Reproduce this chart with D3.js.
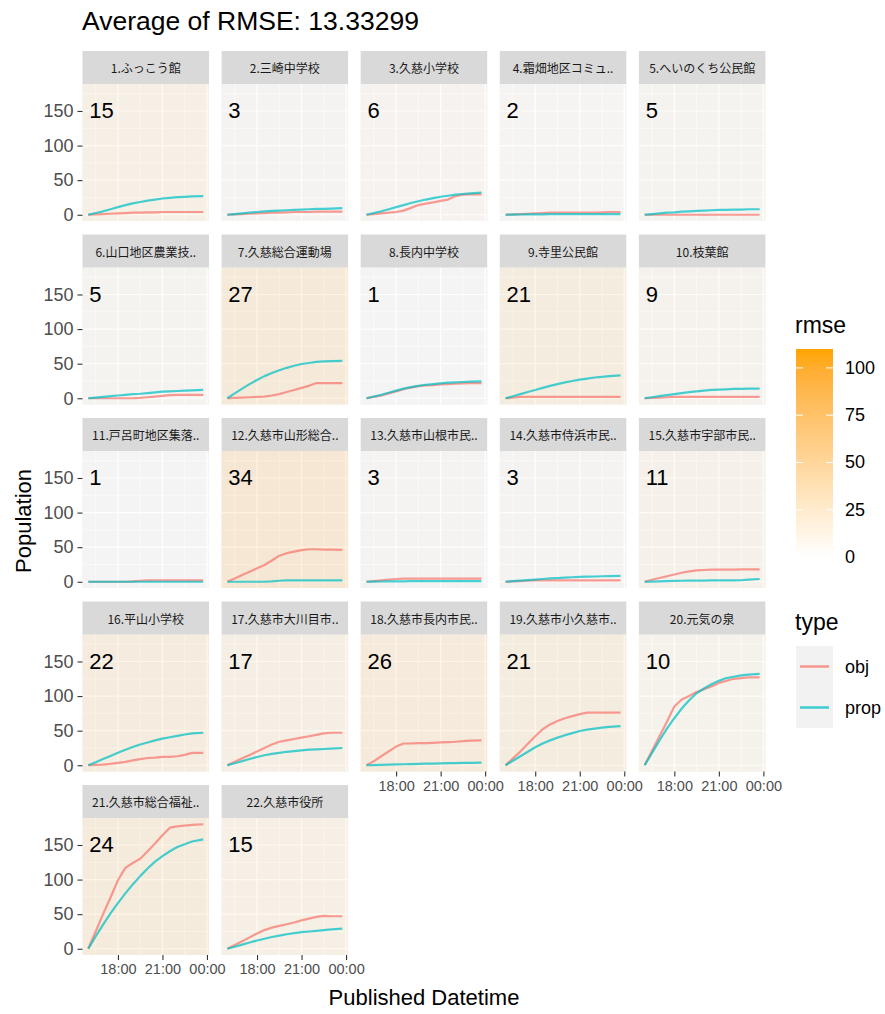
<!DOCTYPE html>
<html>
<head>
<meta charset="utf-8">
<script src="https://cdn.jsdelivr.net/npm/d3@7"></script>
<style>
  body { margin: 0; background: #fff; }
  text { font-family: "Liberation Sans", Arial, sans-serif; }
</style>
</head>
<body>
<svg id="chart" width="885" height="1014"></svg>
<script>
// time stamps shared by every facet
var times = ["16:00", "16:30", "17:00", "17:30", "18:00", "18:30", "19:00", "19:30",
             "20:00", "20:30", "21:00", "21:30", "22:00", "22:30", "23:00", "23:45"];

var facetNames = [
  "1.ふっこう館", "2.三崎中学校", "3.久慈小学校", "4.霜畑地区コミュ..", "5.へいのくち公民館",
  "6.山口地区農業技..", "7.久慈総合運動場", "8.長内中学校", "9.寺里公民館", "10.枝葉館",
  "11.戸呂町地区集落..", "12.久慈市山形総合..", "13.久慈市山根市民..", "14.久慈市侍浜市民..", "15.久慈市宇部市民..",
  "16.平山小学校", "17.久慈市大川目市..", "18.久慈市長内市民..", "19.久慈市小久慈市..", "20.元気の泉",
  "21.久慈市総合福祉..", "22.久慈市役所"
];

var rmse = [15, 3, 6, 2, 5, 5, 27, 1, 21, 9, 1, 34, 3, 3, 11, 22, 17, 26, 21, 10, 24, 15];

// observed population, one row per facet
var objValues = [
  [0, 0.5, 1, 1.5, 2, 2.5, 3, 3, 3.5, 3.5, 4, 4, 4, 4, 4, 4],
  [0, 0.5, 1, 1.5, 2, 2.5, 3, 3, 3.5, 4, 4, 4, 4.5, 4.5, 4.5, 4.5],
  [0, 1, 2, 3, 4, 6, 10, 14, 16, 18, 20, 22, 27, 29, 29.5, 29.5],
  [0, 0.5, 1, 1.5, 2, 2.5, 3, 3, 3, 3, 3, 3, 3, 3.5, 4, 4],
  [0, 0, 0, 0, 0, 0, 0, 0, 0, 0, 0, 0, 0, 0, 0, 0],
  [0, 0, 0, 0, 0, 0, 0, 0.5, 1.5, 2.5, 3.5, 4.5, 5, 5, 5, 5],
  [0, 0.5, 1, 1.5, 2, 2.5, 4, 6, 9, 12, 15, 18, 22, 22, 22, 22],
  [0, 2, 4, 7, 10, 13, 15.5, 17.5, 18.5, 19, 20, 20.5, 21, 21.5, 22, 22],
  [0, 1, 2, 2, 2, 2, 2, 2, 2, 2, 2, 2, 2, 2, 2, 2],
  [0, 0.5, 1, 1.5, 2, 2, 2, 2, 2, 2, 2, 2, 2, 2, 2, 2],
  [0, 0, 0, 0, 0, 0, 0.5, 1.5, 2, 2, 2, 2, 2, 2, 2, 2],
  [0, 4.8, 9.7, 14.5, 19.4, 24.2, 30.8, 37.7, 41.3, 43.5, 45.8, 47, 47, 46.5, 46.5, 46],
  [0, 1, 2, 3, 4, 4.5, 4.5, 4.5, 4.5, 4.5, 4.5, 4.5, 4.5, 4.5, 4.5, 4.5],
  [0, 0.5, 1, 1.5, 2, 2, 2, 2, 2, 2, 2, 2, 2, 2, 2, 2],
  [0, 3, 5.5, 8, 10.5, 13, 15, 16.5, 17, 17.5, 17.5, 17.5, 17.5, 18, 18, 18],
  [0, 0.5, 1, 2, 3.5, 5, 7, 9, 10.5, 11, 12, 12, 13, 15, 18, 18],
  [0, 5, 10, 15, 20, 25, 30, 34, 36, 38, 40, 42, 44, 46, 47, 47],
  [0, 6, 13, 20, 27, 31.5, 31.5, 32, 32, 32.5, 33, 33.5, 34, 35, 35.5, 36],
  [0, 10, 20, 31, 42, 52, 59, 64, 68, 71, 74, 76, 76, 76, 76, 76],
  [0, 21, 42, 63, 85, 95, 100, 106, 110, 114, 119, 122, 125, 126, 127, 127],
  [0, 25, 50, 74, 99, 117, 124, 130, 141, 152, 164, 175, 177, 178, 179, 180],
  [0, 5.5, 11, 16.5, 22, 27, 30.5, 33, 35.5, 38, 41, 43.5, 46, 47.5, 47, 47]
];

// predicted population, one row per facet
var propValues = [
  [0, 2.5, 5, 8, 11, 14, 16.5, 18.5, 20.5, 22, 23.5, 24.5, 25.5, 26, 26.5, 27],
  [0, 1, 2, 3, 4, 5, 5.5, 6, 6.5, 7, 7.5, 8, 8.5, 8.5, 9, 9.5],
  [0, 2.5, 5, 8, 11, 14, 17, 19.5, 22, 24, 26, 27.5, 29, 30, 31, 32],
  [0, 0.2, 0.4, 0.5, 0.6, 0.7, 0.8, 0.9, 1, 1, 1, 1, 1, 1, 1, 1],
  [0, 1, 2, 3, 3.5, 4.5, 5, 5.5, 6, 6.5, 7, 7, 7.5, 7.5, 8, 8],
  [0, 1, 2, 3, 4, 5, 6, 6.5, 7.5, 8.5, 9.5, 10, 10.5, 11, 11.5, 12],
  [0, 7, 14, 20.5, 26.5, 32, 36.5, 40.5, 44, 47, 49.5, 51, 52.5, 53.3, 53.8, 54],
  [0, 2.5, 5, 8, 11, 14, 16, 18, 19.5, 20.5, 21.5, 22.5, 23, 23.5, 24, 24.5],
  [0, 3, 6, 9, 12, 15, 18, 20.5, 23, 25, 27, 28.5, 30, 31, 32, 33],
  [0, 1.5, 3, 4.5, 6, 7.5, 9, 10, 11, 12, 12.5, 13, 13.5, 13.5, 14, 14],
  [0, 0, 0, 0, 0, 0, 0, 0, 0, 0, 0, 0, 0, 0, 0, 0],
  [0, 0, 0, 0, 0, 0, 0.5, 1.5, 2, 2, 2, 2, 2, 2, 2, 2],
  [0, 0.2, 0.4, 0.5, 0.6, 0.7, 0.8, 0.9, 1, 1, 1, 1, 1, 1, 1, 1],
  [0, 0.8, 1.6, 2.4, 3.2, 4, 4.8, 5.4, 6, 6.5, 7, 7.3, 7.6, 8, 8.2, 8.5],
  [0, 0.3, 0.6, 0.9, 1.2, 1.5, 1.6, 1.7, 1.8, 1.9, 2, 2, 2, 2.2, 3, 4],
  [0, 4.5, 9, 13.5, 18, 22.5, 26.5, 30, 33, 36, 38.5, 40.5, 42.5, 44.5, 46, 47],
  [0, 3, 6, 9, 12, 14.5, 16.5, 18, 19.5, 20.5, 21.5, 22.5, 23, 23.5, 24, 25],
  [0, 0.3, 0.6, 0.9, 1.2, 1.5, 1.8, 2, 2.3, 2.5, 2.8, 3, 3.2, 3.4, 3.6, 3.8],
  [0, 6.5, 13, 19.5, 26, 31.5, 36, 40, 43.5, 46.5, 49.5, 51.5, 53, 54.5, 55.5, 56.5],
  [0, 18, 36, 53, 68, 82, 94, 104, 111, 117, 122, 126, 128, 130, 131, 132],
  [0, 18, 35, 51, 66, 80, 93, 105, 116, 126, 134, 141, 147, 151, 155, 158],
  [0, 3, 6, 9, 12, 14.5, 17, 19, 21, 22.5, 24, 25, 26, 27, 28, 29]
];

var yTicks = [0, 50, 100, 150];
var yMinor = [25, 75, 125, 175];
var xTickLabels = ["18:00", "21:00", "00:00"];
var xMinorLabels = ["16:30", "19:30", "22:30"];
var rmseTicks = [0, 25, 50, 75, 100];
var rmseMax = 110;
var seriesNames = ["obj", "prop"];
var seriesColors = ["#F8766D", "#00BFC4"];

// layout
var colLeft = 82.5, colPitch = 139.1, panelW = 126.5;
var rowTop = 84, rowPitch = 183.5, panelH = 137, stripH = 33;

var svg = d3.select('#chart');
var base = new Date(2021, 0, 1);

// "HH:MM" -> Date; times before 12:00 are the next day (00:00 tick)
function toDate(s) {
  var p = s.split(':').map(Number);
  var h = p[0] < 12 ? p[0] + 24 : p[0];
  return new Date(base.getTime() + (h * 60 + p[1]) * 60000);
}

var timeDates = times.map(toDate);
var t0 = timeDates[0], t1 = timeDates[timeDates.length - 1];
var xPad = (t1 - t0) * 0.05;
var yMax = d3.max(objValues.concat(propValues), function (r) { return d3.max(r); });
var yPad = yMax * 0.05;

var fill = d3.scaleLinear().domain([0, rmseMax]).range(['#FFFFFF', '#FFA500'])
  .interpolate(d3.interpolateLab);

// title
svg.append('text')
  .attr('x', 82).attr('y', 30)
  .style('font-size', '26.5px')
  .attr('fill', '#000')
  .text('Average of RMSE: 13.33299');

facetNames.forEach(function (name, i) {
  var row = Math.floor(i / 5), col = i % 5;
  var left = colLeft + col * colPitch;
  var top = rowTop + row * rowPitch;

  var x = d3.scaleTime()
    .domain([new Date(t0.getTime() - xPad), new Date(t1.getTime() + xPad)])
    .range([left, left + panelW]);
  var y = d3.scaleLinear()
    .domain([-yPad, yMax + yPad])
    .range([top + panelH, top]);

  var g = svg.append('g');

  // panel background and grid
  g.append('rect')
    .attr('x', left).attr('y', top)
    .attr('width', panelW).attr('height', panelH)
    .attr('fill', '#EBEBEB');

  g.selectAll('.ymin').data(yMinor).enter().append('line')
    .attr('x1', left).attr('x2', left + panelW)
    .attr('y1', d => y(d)).attr('y2', d => y(d))
    .attr('stroke', '#fff').attr('stroke-width', 0.6);
  g.selectAll('.xmin').data(xMinorLabels.map(toDate)).enter().append('line')
    .attr('x1', d => x(d)).attr('x2', d => x(d))
    .attr('y1', top).attr('y2', top + panelH)
    .attr('stroke', '#fff').attr('stroke-width', 0.6);
  g.selectAll('.ymaj').data(yTicks).enter().append('line')
    .attr('x1', left).attr('x2', left + panelW)
    .attr('y1', d => y(d)).attr('y2', d => y(d))
    .attr('stroke', '#fff').attr('stroke-width', 1.2);
  g.selectAll('.xmaj').data(xTickLabels.map(toDate)).enter().append('line')
    .attr('x1', d => x(d)).attr('x2', d => x(d))
    .attr('y1', top).attr('y2', top + panelH)
    .attr('stroke', '#fff').attr('stroke-width', 1.2);

  // rmse tint over the panel
  g.append('rect')
    .attr('x', left).attr('y', top)
    .attr('width', panelW).attr('height', panelH)
    .attr('fill', fill(rmse[i]))
    .attr('fill-opacity', 0.5);

  // lines
  var line = d3.line()
    .x(function (d, k) { return x(timeDates[k]); })
    .y(function (d) { return y(d); });

  [objValues[i], propValues[i]].forEach(function (vals, s) {
    g.append('path')
      .datum(vals)
      .attr('d', line)
      .attr('fill', 'none')
      .attr('stroke', seriesColors[s])
      .attr('stroke-opacity', 0.72)
      .attr('stroke-width', 2.2)
      .attr('stroke-linejoin', 'round');
  });

  // rmse label
  g.append('text')
    .attr('x', x(t0) + 1).attr('y', y(150))
    .attr('dominant-baseline', 'central')
    .style('font-size', '22px')
    .attr('fill', '#000')
    .text(rmse[i]);

  // strip
  g.append('rect')
    .attr('x', left).attr('y', top - stripH)
    .attr('width', panelW).attr('height', stripH)
    .attr('fill', '#D9D9D9');
  g.append('text')
    .attr('x', left + panelW / 2).attr('y', top - stripH / 2)
    .attr('text-anchor', 'middle')
    .attr('dominant-baseline', 'central')
    .style('font-family', '"Noto Sans CJK JP", sans-serif')
    .style('font-size', '12px')
    .attr('fill', '#1A1A1A')
    .text(name);

  // y axis on first column
  if (col === 0) {
    var ya = g.append('g')
      .attr('transform', 'translate(' + left + ',0)')
      .call(d3.axisLeft(y).tickValues(yTicks).tickSize(5).tickPadding(4));
    ya.select('.domain').remove();
    ya.selectAll('line').attr('stroke', '#333333').attr('stroke-width', 1.1);
    ya.selectAll('text')
      .attr('fill', '#4D4D4D')
      .style('font-size', '18px')
      .style('font-family', '"Liberation Sans", Arial, sans-serif');
  }

  // x axis on the last panel of each column
  if (i + 5 >= facetNames.length) {
    var xa = g.append('g')
      .attr('transform', 'translate(0,' + (top + panelH) + ')')
      .call(d3.axisBottom(x).tickValues(xTickLabels.map(toDate))
        .tickFormat(d3.timeFormat('%H:%M')).tickSize(5).tickPadding(4));
    xa.select('.domain').remove();
    xa.selectAll('line').attr('stroke', '#333333').attr('stroke-width', 1.1);
    xa.selectAll('text')
      .attr('fill', '#4D4D4D')
      .style('font-size', '14.5px')
      .style('font-family', '"Liberation Sans", Arial, sans-serif');
  }
});

// axis titles
svg.append('text')
  .attr('x', 424).attr('y', 1005)
  .attr('text-anchor', 'middle')
  .style('font-size', '22px')
  .text('Published Datetime');

svg.append('text')
  .attr('transform', 'translate(31,521) rotate(-90)')
  .attr('text-anchor', 'middle')
  .style('font-size', '22px')
  .text('Population');

// rmse colourbar
var legend = svg.append('g');
legend.append('text')
  .attr('x', 795).attr('y', 333)
  .style('font-size', '23px')
  .text('rmse');

var cb = d3.scaleLinear().domain([0, rmseMax]).range([557, 349]);
var grad = svg.append('defs').append('linearGradient')
  .attr('id', 'rmseGrad')
  .attr('x1', 0).attr('y1', 1).attr('x2', 0).attr('y2', 0);
d3.range(0, 11).forEach(function (k) {
  grad.append('stop')
    .attr('offset', k / 10)
    .attr('stop-color', fill(rmseMax * k / 10));
});
legend.append('rect')
  .attr('x', 796).attr('y', cb(rmseMax))
  .attr('width', 37).attr('height', cb(0) - cb(rmseMax))
  .attr('fill', 'url(#rmseGrad)');

rmseTicks.forEach(function (v) {
  [[796, 803], [826, 833]].forEach(function (xx) {
    legend.append('line')
      .attr('x1', xx[0]).attr('x2', xx[1])
      .attr('y1', cb(v)).attr('y2', cb(v))
      .attr('stroke', '#fff').attr('stroke-width', 1);
  });
  legend.append('text')
    .attr('x', 845).attr('y', cb(v))
    .attr('dominant-baseline', 'central')
    .style('font-size', '18px')
    .attr('fill', '#000')
    .text(v);
});

// type legend
legend.append('text')
  .attr('x', 795).attr('y', 630)
  .style('font-size', '23px')
  .text('type');

seriesNames.forEach(function (s, k) {
  var ky = 646 + k * 41;
  legend.append('rect')
    .attr('x', 796).attr('y', ky)
    .attr('width', 37).attr('height', 41)
    .attr('fill', '#F2F2F2');
  legend.append('line')
    .attr('x1', 800).attr('x2', 829)
    .attr('y1', ky + 20.5).attr('y2', ky + 20.5)
    .attr('stroke', seriesColors[k])
    .attr('stroke-opacity', 0.75)
    .attr('stroke-width', 2.5);
  legend.append('text')
    .attr('x', 845).attr('y', ky + 20.5)
    .attr('dominant-baseline', 'central')
    .style('font-size', '18px')
    .text(s);
});
</script>
</body>
</html>
